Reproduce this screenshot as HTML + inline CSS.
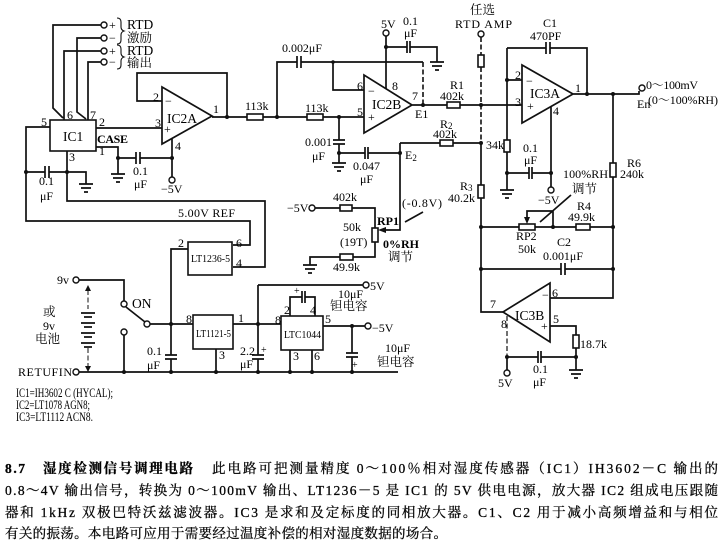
<!DOCTYPE html>
<html><head><meta charset="utf-8"><style>
html,body{margin:0;padding:0;background:#fff;}
svg{display:block;}
text{font-family:"Liberation Serif","Noto Serif CJK SC",serif;fill:#000;font-size:12px;}
.m{font-size:13.5px;}
.sm{font-size:10px;}
.cj{font-size:12.5px;}
.p{font-size:13.5px;stroke:#111;stroke-width:0.3;}
.b{font-weight:bold;}
.w{fill:none;stroke:#111;stroke-width:1.7;}
.dsh{fill:none;stroke:#111;stroke-width:1.6;stroke-dasharray:5,2.5;}
.r{fill:#fff;stroke:#111;stroke-width:1.6;}
.d{fill:#111;}
.o{fill:#fff;stroke:#111;stroke-width:1.4;}
</style></head><body>
<svg width="724" height="546" viewBox="0 0 724 546" xmlns="http://www.w3.org/2000/svg">
<rect width="724" height="546" fill="#fff"/>

<!-- RTD inputs -->
<path class="w" d="M101,25 H53 V108 L63,118 M101,38 H77 V112 L86,119 M101,51 H64 V120 M101,62 H88 V120"/>
<circle class="o" cx="104" cy="25" r="3"/><circle class="o" cx="104" cy="38" r="3"/>
<circle class="o" cx="104" cy="51" r="3"/><circle class="o" cx="104" cy="62" r="3"/>
<text x="109" y="29">+</text><text x="109" y="42">−</text>
<text x="109" y="55">+</text><text x="109" y="66">−</text>
<path class="w" style="stroke-width:1.1" d="M117,18 q4,0 4,4 v5 q0,3 3,4 q-3,1 -3,4 v5 q0,4 -4,4 M117,45 q4,0 4,4 v4 q0,3 3,4 q-3,1 -3,4 v4 q0,4 -4,4"/>
<text x="127" y="29" class="m">RTD</text><text x="127" y="42" class="cj">激励</text>
<text x="127" y="55" class="m">RTD</text><text x="127" y="67" class="cj">输出</text>

<!-- IC1 -->
<rect class="r" x="50" y="120" width="46" height="31"/>
<text x="63" y="141" class="m">IC1</text>
<text x="67" y="119">6</text><text x="90" y="119">7</text><text x="41" y="126">5</text>
<text x="99" y="126">2</text><text x="99" y="155">1</text><text x="69" y="161">3</text>
<text x="97" y="143" class="b" textLength="31">CASE</text>
<path class="w" d="M50,127 H26 V221 H250 V245 H233 M67,151 V201 H265 V267 H233 M26,172 H45 M49,172 H86 V184 M45,166 V178 M49,166 V178 M79,184 H93 M81,188 H91 M84,192 H88"/>
<circle class="d" cx="26" cy="172" r="2"/><circle class="d" cx="67" cy="172" r="2"/>
<text x="39" y="185">0.1</text><text x="40" y="200">μF</text>
<path class="w" d="M96,147 H118 V174 M118,158 H136 M140,158 H172 M136,152 V164 M140,152 V164 M111,174 H125 M113,178 H123 M116,182 H120 M172,138 V177 M96,128 H162"/>
<circle class="d" cx="118" cy="158" r="2"/><circle class="d" cx="172" cy="158" r="2"/>
<circle class="o" cx="172" cy="180" r="3"/>
<text x="133" y="175">0.1</text><text x="134" y="188">μF</text><text x="161" y="193">−5V</text>
<text x="178" y="217" textLength="57">5.00V REF</text>

<!-- IC2A -->
<path class="w" d="M162,87 L162,144 L212,116 Z M162,101 H137 V73 H227 V117 M212,117 H247 M263,117 H307 M323,117 H364"/>
<rect class="r" x="247" y="114" width="16" height="6"/><rect class="r" x="307" y="114" width="16" height="6"/>
<circle class="d" cx="227" cy="117" r="2"/><circle class="d" cx="277" cy="117" r="2"/><circle class="d" cx="339" cy="117" r="2"/>
<text x="153" y="101">2</text><text x="165" y="105">−</text><text x="155" y="127">3</text><text x="164" y="133">+</text>
<text x="167" y="123" class="m">IC2A</text><text x="213" y="113">1</text><text x="175" y="150">4</text>
<text x="245" y="110">113k</text><text x="305" y="112">113k</text>

<!-- IC2B -->
<path class="w" d="M277,117 V62 H297 M301,62 H423 M297,56 V68 M301,56 V68 M333,62 V90 H364 M386,36 V89 M386,47 H407 M410,47 H437 V62 M407,41 V53 M410,41 V53 M430,62 H444 M432,66 H442 M435,70 H439"/>
<path class="dsh" d="M423,62 V105"/>
<circle class="d" cx="333" cy="62" r="1.8"/><circle class="d" cx="386" cy="47" r="2"/>
<circle class="o" cx="386" cy="33" r="3"/>
<text x="282" y="52" textLength="40">0.002μF</text>
<text x="381" y="28">5V</text><text x="403" y="25">0.1</text><text x="404" y="37">μF</text>
<path class="w" d="M364,75 L364,133 L412,105 Z M412,105 H447 M460,105 H522"/>
<rect class="r" x="447" y="102" width="13" height="6"/>
<circle class="d" cx="423" cy="105" r="2"/><circle class="d" cx="481" cy="105" r="2"/>
<text x="357" y="90">6</text><text x="368" y="95">−</text><text x="392" y="90">8</text>
<text x="357" y="116">5</text><text x="368" y="121">+</text>
<text x="372" y="109" class="m">IC2B</text><text x="412" y="100">7</text><text x="415" y="118">E1</text>
<text x="450" y="89">R1</text><text x="440" y="100">402k</text>
<path class="w" d="M339,117 V140 M339,144 V163 M333,140 H345 M333,144 H345 M332,163 H346 M334,167 H344 M337,171 H341 M339,153 H365 M368,153 H400 M365,147 V159 M368,147 V159 M400,143 V230 H385 M400,143 H440 M453,143 H481"/>
<rect class="r" x="440" y="140" width="13" height="6"/>
<polygon class="d" points="378,230 386,227 386,233"/>
<circle class="d" cx="339" cy="153" r="2"/><circle class="d" cx="400" cy="153" r="2"/><circle class="d" cx="481" cy="143" r="2"/>
<text x="305" y="146">0.001</text><text x="312" y="160">μF</text>
<text x="353" y="170">0.047</text><text x="360" y="183">μF</text>
<text x="405" y="159">E<tspan font-size="9" dy="2">2</tspan></text>
<text x="440" y="128">R<tspan font-size="9" dy="1">2</tspan></text><text x="433" y="138">402k</text>

<!-- RP1 -->
<circle class="o" cx="312" cy="208" r="3"/>
<path class="w" d="M315,208 H340 M352,208 H375 V228 M375,242 V257 H353 M340,257 H310 V265 M303,265 H317 M305,269 H315 M308,273 H312 M405,222 L423,212"/>
<rect class="r" x="340" y="205" width="12" height="6"/>
<rect class="r" x="372" y="228" width="6" height="14"/>
<rect class="r" x="340" y="254" width="13" height="6"/>
<text x="287" y="212">−5V</text><text x="333" y="201">402k</text>
<text x="343" y="231">50k</text><text x="340" y="246">(19T)</text><text x="333" y="271">49.9k</text>
<text x="377" y="225" class="b">RP1</text><text x="402" y="207" textLength="40">(-0.8V)</text>
<text x="383" y="248" class="b">0%RH</text><text x="388" y="261" class="cj">调节</text>

<!-- RTD AMP / sum node -->
<text x="470" y="14" class="cj">任选</text>
<text x="455" y="28" textLength="57">RTD AMP</text>
<circle class="o" cx="481" cy="34" r="3"/>
<path class="dsh" d="M481,37 V55 M481,67 V143"/>
<rect class="r" x="478" y="55" width="6" height="12"/>
<path class="w" d="M481,143 V185 M481,198 V312 H503"/>
<rect class="r" x="478" y="185" width="6" height="13"/>
<text x="460" y="190">R<tspan font-size="9" dy="1">3</tspan></text><text x="448" y="202">40.2k</text>

<!-- IC3A -->
<path class="w" d="M522,65 L522,123 L573,94 Z M507,48 V190 M522,80 H507 M507,48 H546 M550,48 H587 V94 M546,42 V54 M550,42 V54 M573,94 H639 V91 M507,173 H529 M532,173 H551 M529,167 V179 M532,167 V179 M500,190 H514 M502,194 H512 M505,198 H509 M551,107 V187 M613,94 V298 H550"/>
<rect class="r" x="504" y="140" width="6" height="12"/>
<rect class="r" x="610" y="163" width="6" height="14"/>
<circle class="o" cx="642" cy="88" r="3"/>
<circle class="o" cx="551" cy="190" r="3"/>
<circle class="d" cx="507" cy="80" r="2"/><circle class="d" cx="587" cy="94" r="2"/><circle class="d" cx="613" cy="94" r="2"/>
<circle class="d" cx="507" cy="173" r="2"/><circle class="d" cx="551" cy="173" r="2"/>
<text x="543" y="27">C1</text><text x="530" y="40">470PF</text>
<text x="515" y="79">2</text><text x="526" y="85">−</text><text x="515" y="106">3</text><text x="527" y="110">+</text>
<text x="530" y="98" class="m">IC3A</text><text x="575" y="92">1</text><text x="553" y="115">4</text>
<text x="646" y="89" textLength="52">0～100mV</text>
<text x="637" y="108">En</text><text x="648" y="104" textLength="70">(0～100%RH)</text>
<text x="486" y="149">34k</text>
<text x="523" y="152">0.1</text><text x="524" y="164">μF</text>
<text x="627" y="167">R6</text><text x="620" y="178">240k</text>
<text x="563" y="178" textLength="45">100%RH</text><text x="572" y="193" class="cj">调节</text>
<text x="538" y="204">−5V</text>

<!-- RP2, R4, C2 -->
<path class="w" d="M481,227 H519 M535,227 H576 M590,227 H613 M553,227 V211 H527 V218 M540,222 L571,195 M481,269 H561 M565,269 H613 M561,263 V275 M565,263 V275"/>
<rect class="r" x="519" y="224" width="16" height="6"/>
<rect class="r" x="576" y="224" width="14" height="6"/>
<polygon class="d" points="527,224 524,217 530,217"/>
<circle class="d" cx="481" cy="227" r="2"/><circle class="d" cx="553" cy="227" r="2"/><circle class="d" cx="613" cy="227" r="2"/>
<circle class="d" cx="481" cy="269" r="2"/><circle class="d" cx="613" cy="269" r="2"/>
<text x="577" y="210">R4</text><text x="568" y="221">49.9k</text>
<text x="516" y="240">RP2</text><text x="518" y="253">50k</text>
<text x="557" y="246">C2</text><text x="543" y="260" textLength="40">0.001μF</text>

<!-- IC3B -->
<path class="w" d="M550,283 L550,342 L503,312 Z M550,326 H576 V335 M576,348 V370 M569,370 H583 M571,374 H581 M574,378 H578 M507,357 V370 M507,357 H538 M541,357 H576 M538,351 V363 M541,351 V363"/>
<path class="dsh" d="M507,316 V357" style="stroke-width:1.2"/>
<rect class="r" x="573" y="335" width="6" height="13"/>
<circle class="d" cx="576" cy="357" r="2"/><circle class="d" cx="507" cy="357" r="2"/>
<circle class="o" cx="507" cy="373" r="3"/>
<text x="552" y="297">6</text><text x="542" y="299">−</text><text x="553" y="323">5</text><text x="541" y="330">+</text>
<text x="515" y="320" class="m">IC3B</text><text x="490" y="308">7</text><text x="501" y="328">8</text>
<text x="580" y="348">18.7k</text>
<text x="533" y="373">0.1</text><text x="533" y="386">μF</text><text x="498" y="387">5V</text>

<!-- LT1236 -->
<rect class="r" x="188" y="242" width="44" height="33"/>
<text x="191" y="262" class="sm" textLength="39" lengthAdjust="spacingAndGlyphs">LT1236-5</text>
<text x="178" y="247">2</text><text x="236" y="247">6</text><text x="236" y="267">4</text>

<!-- supply section -->
<text x="57" y="284">9v</text>
<circle class="o" cx="76" cy="280" r="3"/>
<path class="w" d="M79,280 H124 V301 M126,307 L145,322 M150,324 H193 M124,335 V372 M79,372 H398 M188,249 H171 V355 M165,355 H177 M165,359 H177 M171,359 V372"/>
<circle class="o" cx="124" cy="304" r="3"/><circle class="o" cx="147" cy="324" r="3"/><circle class="o" cx="124" cy="332" r="3"/>
<circle class="o" cx="76" cy="372" r="3"/>
<text x="132" y="308" class="m">ON</text>
<path class="dsh" d="M88,290 V309 M88,348 V368" style="stroke-width:1"/>
<polygon class="d" points="88,285 85,291 91,291"/><polygon class="d" points="88,372 85,366 91,366"/>
<path class="w" d="M81,313 H95 M84,317 H92 M81,323 H95 M84,327 H92 M81,333 H95 M84,337 H92 M81,343 H95 M84,347 H92"/>
<text x="43" y="316" class="cj">或</text><text x="43" y="330">9v</text><text x="35" y="343" class="cj">电池</text>
<text x="18" y="376" textLength="54">RETUFIN</text>
<text x="147" y="355">0.1</text><text x="147" y="369">μF</text>

<!-- LT1121 -->
<rect class="r" x="193" y="315" width="40" height="34"/>
<text x="196" y="337" class="sm" textLength="35" lengthAdjust="spacingAndGlyphs">LT1121-5</text>
<text x="186" y="323">8</text><text x="238" y="322">1</text><text x="219" y="359">3</text>
<path class="w" d="M216,349 V372 M233,324 H281 M258,285 V355 M252,355 H264 M252,359 H264 M258,359 V372 M258,285 H363"/>
<text x="261" y="353" class="sm">+</text>
<text x="240" y="355">2.2</text><text x="240" y="368">μF</text>
<circle class="o" cx="366" cy="285" r="3"/>
<text x="370" y="290">5V</text>

<!-- LTC1044 -->
<rect class="r" x="281" y="316" width="42" height="34"/>
<text x="284" y="338" class="sm" textLength="37" lengthAdjust="spacingAndGlyphs" style="font-size:11px">LTC1044</text>
<path class="w" d="M290,316 V297 H302 M305,297 H315 V316 M302,291 V303 M305,291 V303 M323,326 H365 M352,326 V353 M346,353 H358 M346,357 H358 M352,357 V372 M290,350 V372 M312,350 V372"/>
<text x="294" y="294" class="sm">+</text><text x="352" y="368" class="sm">+</text>
<circle class="o" cx="368" cy="326" r="3"/>
<text x="284" y="314">2</text><text x="310" y="314">4</text><text x="275" y="324">8</text><text x="325" y="323">5</text>
<text x="293" y="360">3</text><text x="314" y="360">6</text>
<text x="338" y="298">10μF</text><text x="330" y="310" class="cj">钽电容</text>
<text x="372" y="332">−5V</text>
<text x="385" y="352">10μF</text><text x="377" y="366" class="cj">钽电容</text>

<circle class="d" cx="124" cy="372" r="2"/><circle class="d" cx="171" cy="372" r="2"/><circle class="d" cx="216" cy="372" r="2"/>
<circle class="d" cx="258" cy="372" r="2"/><circle class="d" cx="290" cy="372" r="2"/><circle class="d" cx="312" cy="372" r="2"/>
<circle class="d" cx="352" cy="372" r="2"/>
<circle class="d" cx="171" cy="324" r="2"/><circle class="d" cx="258" cy="324" r="2"/><circle class="d" cx="352" cy="326" r="2"/>

<!-- IC list -->
<text x="16" y="397" style="font-size:12.5px" textLength="97" lengthAdjust="spacingAndGlyphs">IC1=IH3602 C (HYCAL);</text>
<text x="16" y="409" style="font-size:12.5px" textLength="74" lengthAdjust="spacingAndGlyphs">IC2=LT1078 AGN8;</text>
<text x="16" y="421" style="font-size:12.5px" textLength="77" lengthAdjust="spacingAndGlyphs">IC3=LT1112 ACN8.</text>

<!-- paragraph -->
<text x="5" y="473" class="p b" textLength="20">8.7</text>
<text x="43" y="473" class="p b" textLength="150">湿度检测信号调理电路</text>
<text x="212" y="473" class="p" textLength="506" lengthAdjust="spacing">此电路可把测量精度 0～100％相对湿度传感器（IC1）IH3602－C 输出的</text>
<text x="5" y="495" class="p" textLength="713" lengthAdjust="spacing">0.8～4V 输出信号，转换为 0～100mV 输出、LT1236－5 是 IC1 的 5V 供电电源，放大器 IC2 组成电压跟随</text>
<text x="5" y="517" class="p" textLength="713" lengthAdjust="spacing">器和 1kHz 双极巴特沃兹滤波器。IC3 是求和及定标度的同相放大器。C1、C2 用于减小高频增益和与相位</text>
<text x="5" y="538" class="p" textLength="442" lengthAdjust="spacing">有关的振荡。本电路可应用于需要经过温度补偿的相对湿度数据的场合。</text>
</svg>
</body></html>
